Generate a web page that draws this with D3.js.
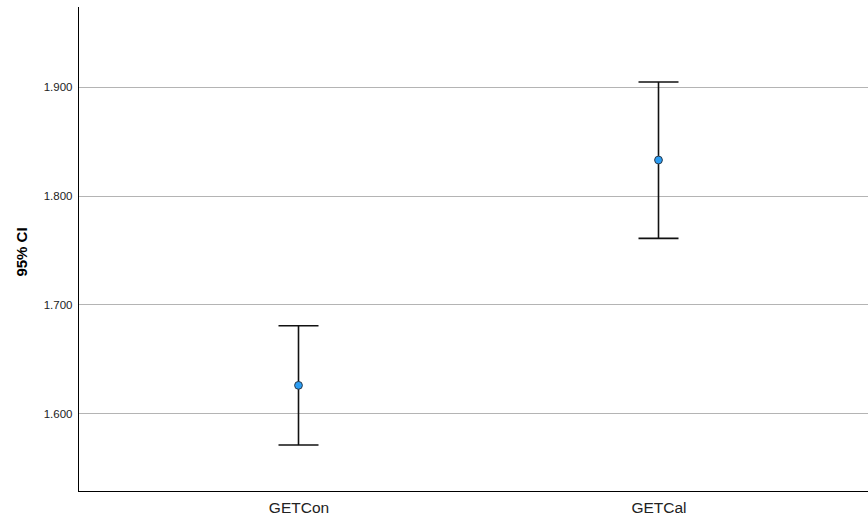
<!DOCTYPE html>
<html><head><meta charset="utf-8">
<script src="https://cdn.jsdelivr.net/npm/d3@7"></script>
<style>body{margin:0;background:#fff}svg{display:block}</style>
</head><body>
<svg id="c" width="868" height="518"></svg>
<script>
const categories = ["GETCon", "GETCal"];
const means = [1.6257, 1.8326];
const lower = [1.5709, 1.7607];
const upper = [1.6804, 1.9042];
const yTicks = [1.6, 1.7, 1.8, 1.9];
const yDomain = [1.5287, 1.9731];

(function () {
const svg = d3.select("#c");
const mLeft = 78, mRight = 868, mTop = 7, mBottom = 491;
const y = d3.scaleLinear().domain(yDomain).range([mBottom, mTop]);
const x = d3.scalePoint().domain(categories).range([298.5, 658.5]);
const font = "Liberation Sans, Arial, sans-serif";

// gridlines
svg.append("g").selectAll("line").data(yTicks).join("line")
  .attr("x1", mLeft).attr("x2", mRight)
  .attr("y1", d => Math.round(y(d)) + 0.5).attr("y2", d => Math.round(y(d)) + 0.5)
  .attr("stroke", "#b4b4b4").attr("stroke-width", 1);

// y axis
const yAxis = d3.axisLeft(y).tickValues(yTicks).tickFormat(d3.format(".3f")).tickSize(0).tickPadding(6);
const gy = svg.append("g").attr("transform", `translate(${mLeft + 0.5},0)`).call(yAxis);
gy.select(".domain").remove();
gy.selectAll("text").attr("font-family", font).attr("font-size", 11.5).attr("fill", "#222");
svg.append("line").attr("x1", mLeft + 0.5).attr("x2", mLeft + 0.5).attr("y1", mTop).attr("y2", mBottom)
  .attr("stroke", "#000").attr("stroke-width", 1);

// x axis
const xAxis = d3.axisBottom(x).tickSize(0).tickPadding(10);
const gx = svg.append("g").attr("transform", `translate(0,${mBottom + 0.5})`).call(xAxis);
gx.select(".domain").remove();
gx.selectAll("text").attr("font-family", font).attr("font-size", 15.5).attr("fill", "#222");
svg.append("line").attr("x1", mLeft).attr("x2", mRight).attr("y1", mBottom + 0.5).attr("y2", mBottom + 0.5)
  .attr("stroke", "#000").attr("stroke-width", 1);

// y label
svg.append("text").attr("transform", `translate(27,252) rotate(-90)`)
  .attr("text-anchor", "middle").attr("font-family", font)
  .attr("font-size", 15).attr("font-weight", "bold").attr("fill", "#000").text("95% CI");

// error bars
const data = categories.map((c, i) => ({c, m: means[i], lo: lower[i], hi: upper[i]}));
const g = svg.append("g");
g.selectAll(".v").data(data).join("line")
  .attr("x1", d => x(d.c)).attr("x2", d => x(d.c))
  .attr("y1", d => y(d.lo)).attr("y2", d => y(d.hi))
  .attr("stroke", "#111").attr("stroke-width", 1.6);
g.selectAll(".capT").data(data).join("line")
  .attr("x1", d => x(d.c) - 20).attr("x2", d => x(d.c) + 20)
  .attr("y1", d => y(d.hi)).attr("y2", d => y(d.hi))
  .attr("stroke", "#111").attr("stroke-width", 1.6);
g.selectAll(".capB").data(data).join("line")
  .attr("x1", d => x(d.c) - 20).attr("x2", d => x(d.c) + 20)
  .attr("y1", d => y(d.lo)).attr("y2", d => y(d.lo))
  .attr("stroke", "#111").attr("stroke-width", 1.6);
g.selectAll("circle").data(data).join("circle")
  .attr("cx", d => x(d.c)).attr("cy", d => y(d.m)).attr("r", 3.9)
  .attr("fill", "#2a9df4").attr("stroke", "#2b3a4a").attr("stroke-width", 1);
})();
</script>
</body></html>
